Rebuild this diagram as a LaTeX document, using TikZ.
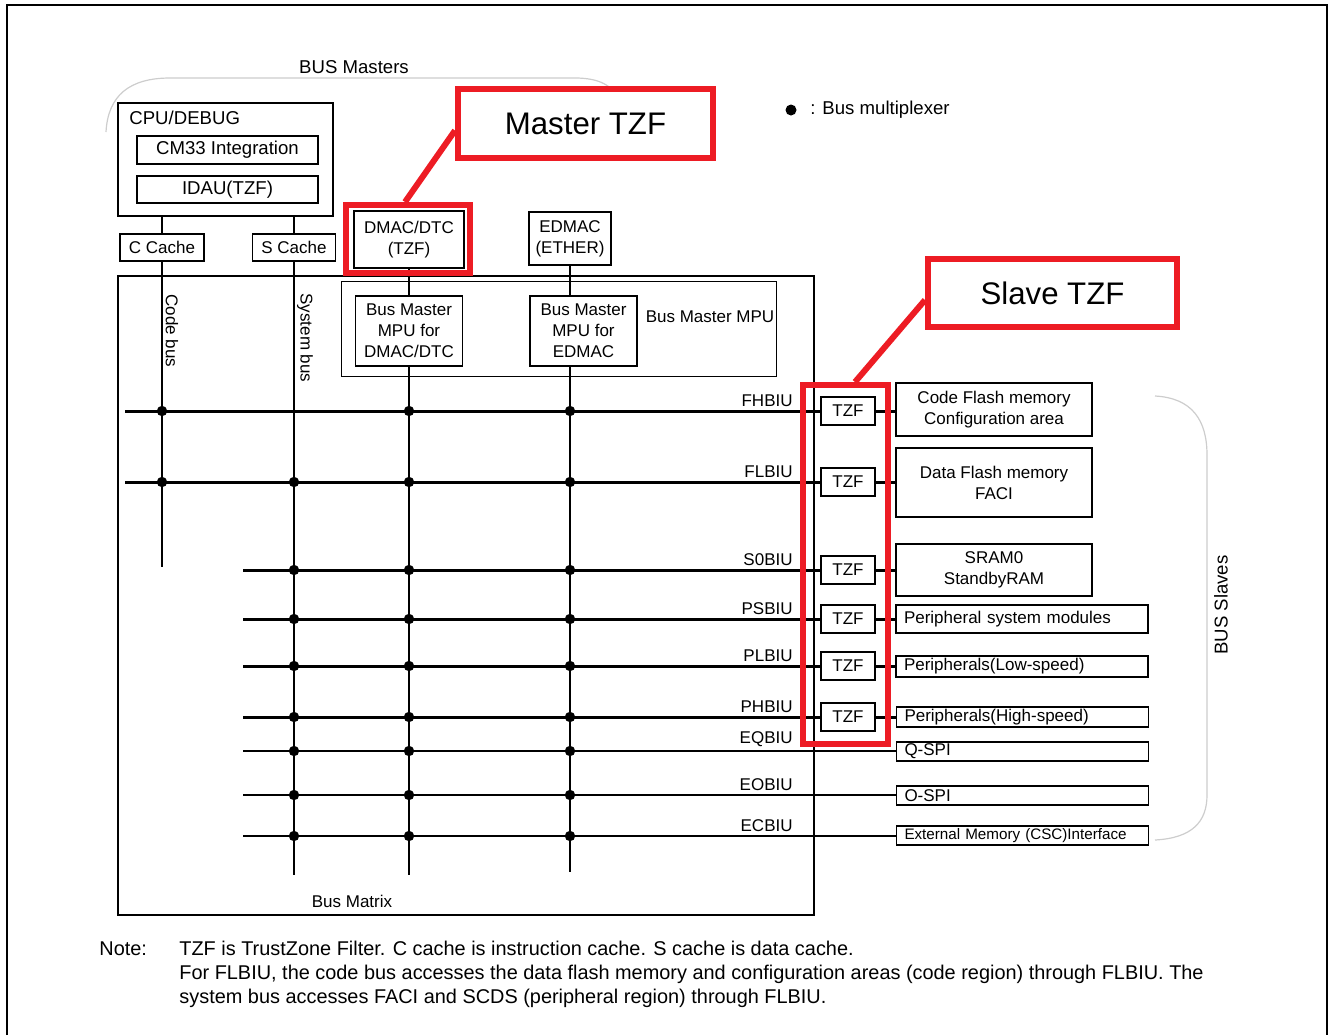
\documentclass[tikz,border=0pt]{standalone}
\usepackage{fontspec}
\setmainfont{Liberation Sans}
\usetikzlibrary{positioning}

\definecolor{tzfred}{RGB}{237,28,36}
\definecolor{grpgray}{RGB}{205,205,205}

\tikzset{
  blk/.style={draw, line width=0.9pt, inner sep=0pt, align=center, font=\fontsize{8.5}{10.5}\selectfont},
  cpublk/.style={blk, font=\fontsize{9.3}{11}\selectfont},
  slave/.style={blk, text width=118pt, inner xsep=4pt, align=left},
  tzf/.style={blk, fill=white, minimum width=27pt, minimum height=14pt},
  lbl/.style={inner sep=1pt, font=\fontsize{8.5}{10.5}\selectfont},
  biglbl/.style={inner sep=1pt, font=\fontsize{9.3}{11}\selectfont},
  busl/.style={lbl, anchor=south east},
  note/.style={inner sep=0pt, align=left, font=\fontsize{9.95}{12}\selectfont},
  conn/.style={line width=0.9pt},
  bus/.style={line width=1.5pt},
  vbus/.style={line width=1.2pt},
  hl/.style={draw=tzfred, line width=3pt},
  grp/.style={draw=grpgray, line width=0.6pt},
}

\begin{document}
\begin{tikzpicture}[x=0.5pt, y=-0.5pt]
    \useasboundingbox (0,0) rectangle (1328,1035);
    \draw[line width=1.4pt] (7,1035) -- (7,5) -- (1327,5) -- (1327,1035);

    % Bus masters
    \draw[grp] (106,132) .. controls (108,95) and (130,78) .. (170,78) -- (575,78) .. controls (600,78) and (612,86) .. (618,98);
    \node[biglbl] (bmlbl) at (354,67) {BUS Masters};
    \node[blk, minimum width=107.5pt, minimum height=56.5pt] (cpu) at (225.5,159.5) {};
    \node[biglbl, anchor=west] (cpulbl) at (127,118) {CPU/DEBUG};
    \node[cpublk, minimum width=90.5pt, minimum height=14pt] (cm33) at (227.5,150) {CM33 Integration};
    \node[cpublk, minimum width=90.5pt, minimum height=13.5pt] (idau) at (227.5,189.5) {IDAU(TZF)};
    \node[blk, minimum width=42pt, minimum height=13.5pt] (ccache) at (162,247.5) {C Cache};
    \node[blk, minimum width=41.5pt, minimum height=13.5pt] (scache) at (294,247.5) {S Cache};
    \node[blk, minimum width=55pt, minimum height=28.5pt] (dmac) at (409,239.5) {DMAC/DTC\\(TZF)};
    \node[blk, minimum width=41pt, minimum height=26.5pt] (edmac) at (570,238.5) {EDMAC\\(ETHER)};

    % Bus matrix and MPUs
    \node[blk, minimum width=348pt, minimum height=319.5pt] (matrix) at (466,595.5) {};
    \node[lbl] (mxlbl) at (352,901) {Bus Matrix};
    \node[blk, line width=0.5pt, minimum width=217.5pt, minimum height=47.5pt] (mpugrp) at (558.5,328.5) {};
    \node[lbl] (mpulbl) at (710,317) {Bus Master MPU};
    \node[blk, minimum width=53.5pt, minimum height=35pt] (mpud) at (409,331) {Bus Master\\MPU for\\DMAC/DTC};
    \node[blk, minimum width=53.5pt, minimum height=35pt] (mpue) at (583.5,331) {Bus Master\\MPU for\\EDMAC};

    % Vertical buses
    \coordinate (cend) at (162,567);
    \coordinate (send) at (294,875);
    \coordinate (dend) at (409,875);
    \coordinate (eend) at (570,872);
    \draw[conn] (ccache.north |- cpu.south) -- (ccache.north);
    \draw[conn] (scache.north |- cpu.south) -- (scache.north);
    \draw[vbus] (ccache.south) -- (cend);
    \draw[vbus] (scache.south) -- (send);
    \draw[vbus] (dmac.south) -- (mpud.north);
    \draw[vbus] (mpud.south) -- (dend);
    \draw[vbus] (edmac.south) -- (edmac.south |- mpue.north);
    \draw[vbus] (edmac.south |- mpue.south) -- (eend);
    \node[lbl, rotate=-90] (codelbl) at (172,331) {Code bus};
    \node[lbl, rotate=-90] (syslbl) at (305,338) {System bus};

    % TZF and bus slaves
    \node[tzf] (tzfh) at (848,411) {TZF};
    \node[tzf] (tzfl) at (848,482) {TZF};
    \node[tzf] (tzfs) at (848,570) {TZF};
    \node[tzf] (tzfps) at (848,619) {TZF};
    \node[tzf] (tzfpl) at (848,666) {TZF};
    \node[tzf] (tzfph) at (848,717) {TZF};
    \node[blk, minimum width=98pt, minimum height=26.5pt] (cfm) at (994,409.5) {Code Flash memory\\Configuration area};
    \node[blk, minimum width=98pt, minimum height=34.5pt] (dfm) at (994,482.5) {Data Flash memory\\FACI};
    \node[blk, minimum width=98pt, minimum height=26pt] (sram) at (994,570) {SRAM0\\StandbyRAM};
    \node[slave, minimum height=14pt] (psm) at (1022,619) {Peripheral system modules};
    \node[slave, minimum height=10.5pt] (pls) at (1022,666.5) {Peripherals(Low-speed)};
    \node[slave, minimum height=10pt] (phs) at (1022.5,717) {Peripherals(High-speed)};
    \node[slave, minimum height=9.5pt] (qspi) at (1022.5,751.5) {Q-SPI};
    \node[slave, minimum height=9.5pt] (ospi) at (1022.5,795.5) {O-SPI};
    \node[slave, minimum height=9.5pt, font=\fontsize{7.6}{9}\selectfont] (extm) at (1022.5,835.5) {External Memory (CSC)Interface};

    % Horizontal buses
    \coordinate (fhL) at (125,411);
    \coordinate (flL) at (125,482);
    \coordinate (s0L) at (243,570);
    \coordinate (psL) at (243,619);
    \coordinate (plL) at (243,666);
    \coordinate (phL) at (243,717);
    \coordinate (eqL) at (243,751);
    \coordinate (eoL) at (243,795);
    \coordinate (ecL) at (243,836);
    \draw[bus] (fhL) -- (tzfh.west);
    \draw[bus] (flL) -- (tzfl.west);
    \draw[bus] (s0L) -- (tzfs.west);
    \draw[bus] (psL) -- (tzfps.west);
    \draw[bus] (plL) -- (tzfpl.west);
    \draw[bus] (phL) -- (tzfph.west);
    \draw[vbus] (eqL) -- (eqL -| qspi.west);
    \draw[vbus] (eoL) -- (eoL -| ospi.west);
    \draw[vbus] (ecL) -- (ecL -| extm.west);
    \draw[bus] (tzfh.east) -- (tzfh.east -| cfm.west);
    \draw[bus] (tzfl.east) -- (tzfl.east -| dfm.west);
    \draw[bus] (tzfs.east) -- (tzfs.east -| sram.west);
    \draw[bus] (tzfps.east) -- (tzfps.east -| psm.west);
    \draw[bus] (tzfpl.east) -- (tzfpl.east -| pls.west);
    \draw[bus] (tzfph.east) -- (tzfph.east -| phs.west);
    \node[busl] (fhlbl) at (795,409) {FHBIU};
    \node[busl] (fllbl) at (795,480) {FLBIU};
    \node[busl] (s0lbl) at (795,568) {S0BIU};
    \node[busl] (pslbl) at (795,617) {PSBIU};
    \node[busl] (pllbl) at (795,664) {PLBIU};
    \node[busl] (phlbl) at (795,715) {PHBIU};
    \node[busl] (eqlbl) at (795,749) {EQBIU};
    \node[busl] (eolbl) at (795,793) {EOBIU};
    \node[busl] (eclbl) at (795,834) {ECBIU};

    % Bus multiplexers
    \fill (cend |- fhL) circle (2.6pt) (dend |- fhL) circle (2.6pt) (eend |- fhL) circle (2.6pt);
    \fill (cend |- flL) circle (2.6pt) (send |- flL) circle (2.6pt) (dend |- flL) circle (2.6pt) (eend |- flL) circle (2.6pt);
    \fill (send |- s0L) circle (2.6pt) (dend |- s0L) circle (2.6pt) (eend |- s0L) circle (2.6pt);
    \fill (send |- psL) circle (2.6pt) (dend |- psL) circle (2.6pt) (eend |- psL) circle (2.6pt);
    \fill (send |- plL) circle (2.6pt) (dend |- plL) circle (2.6pt) (eend |- plL) circle (2.6pt);
    \fill (send |- phL) circle (2.6pt) (dend |- phL) circle (2.6pt) (eend |- phL) circle (2.6pt);
    \fill (send |- eqL) circle (2.6pt) (dend |- eqL) circle (2.6pt) (eend |- eqL) circle (2.6pt);
    \fill (send |- eoL) circle (2.6pt) (dend |- eoL) circle (2.6pt) (eend |- eoL) circle (2.6pt);
    \fill (send |- ecL) circle (2.6pt) (dend |- ecL) circle (2.6pt) (eend |- ecL) circle (2.6pt);
    \node[circle, fill, inner sep=0pt, minimum size=5.5pt] (muxkey) at (791,110) {};
    \node[biglbl, anchor=west] (muxlbl) at (808,110) {: Bus multiplexer};

    % Bus slaves group
    \draw[grp] (1155,396) .. controls (1192,398) and (1207,420) .. (1207,455) -- (1207,795) .. controls (1207,822) and (1192,838) .. (1155,840);
    \node[biglbl, rotate=90] (bslbl) at (1221,605) {BUS Slaves};

    % TrustZone filter callouts
    \node[hl, minimum width=62pt, minimum height=34pt] (dmachl) at (408,239) {};
    \node[hl, fill=white, minimum width=127.5pt, minimum height=34.5pt, font=\fontsize{15.6}{18}\selectfont] (mtzf) at (585.5,123.5) {Master TZF};
    \draw[hl] ([yshift=-3.5pt]mtzf.west) -- ([xshift=-1.5pt]dmachl.north);
    \node[hl, minimum width=42.5pt, minimum height=179.5pt] (stzfhl) at (845.5,564.5) {};
    \node[hl, fill=white, minimum width=124.5pt, minimum height=34pt, font=\fontsize{15.6}{18}\selectfont] (stzf) at (1052.5,293) {Slave TZF};
    \draw[hl] ([yshift=-3.5pt]stzf.west) -- ([xshift=4.75pt]stzfhl.north);

    % Note
    \node[note, anchor=north west] (notelbl) at (99,941) {Note:};
    \node[note, anchor=north west] (notetxt) at (179,941) {TZF is TrustZone Filter. C cache is instruction cache. S cache is data cache.\\For FLBIU, the code bus accesses the data flash memory and configuration areas (code region) through FLBIU. The\\system bus accesses FACI and SCDS (peripheral region) through FLBIU.};
\end{tikzpicture}
\end{document}
